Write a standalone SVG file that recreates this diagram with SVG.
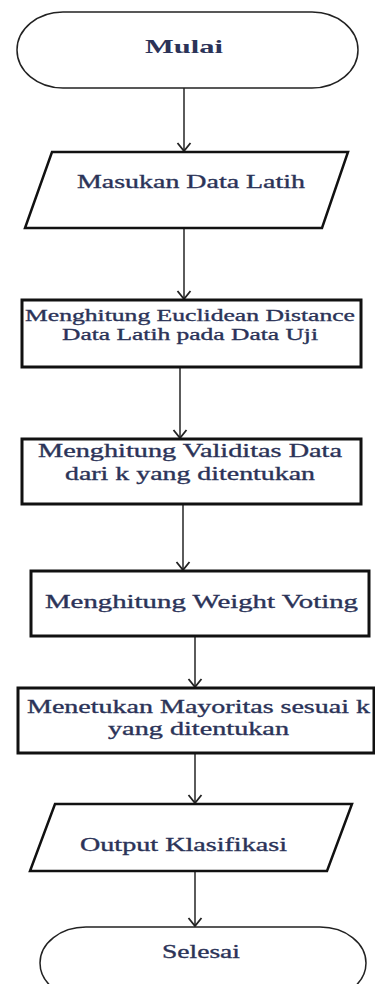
<svg xmlns="http://www.w3.org/2000/svg" width="375" height="984" viewBox="0 0 375 984">
<style>
.t{font-family:"Liberation Serif","Times New Roman",serif;font-size:19px;fill:#2b3358;stroke:#2b3358;stroke-width:0.35}
.s{font-size:17px}
.b{font-weight:bold;stroke-width:0}
.term{fill:#fff;stroke:#222;stroke-width:1.5}
.box{fill:#fff;stroke:#111;stroke-width:3}
.io{fill:#fff;stroke:#111;stroke-width:2.5}
.c line{stroke:#333;stroke-width:1.6}
</style>
<defs>
<marker id="ah" markerUnits="userSpaceOnUse" markerWidth="14" markerHeight="16" refX="10" refY="8" orient="auto" viewBox="0 0 12 16">
<path d="M2,1.5 L10,8 L2,14.5" fill="none" stroke="#222" stroke-width="1.8"/>
</marker>
</defs>
<rect width="375" height="984" fill="#fff"/>
<g class="c" id="connectors">
<line x1="184" y1="88" x2="184" y2="151" marker-end="url(#ah)"/>
<line x1="184" y1="228" x2="184" y2="299" marker-end="url(#ah)"/>
<line x1="180" y1="367" x2="180" y2="438" marker-end="url(#ah)"/>
<line x1="183" y1="504" x2="183" y2="570" marker-end="url(#ah)"/>
<line x1="195" y1="636" x2="195" y2="687" marker-end="url(#ah)"/>
<line x1="195" y1="753" x2="195" y2="803" marker-end="url(#ah)"/>
<line x1="195" y1="871" x2="195" y2="926" marker-end="url(#ah)"/>
</g>
<g id="mulai">
<rect class="term" x="17" y="12" width="341" height="76" rx="46" ry="38"/>
<text class="t b" x="145" y="53" font-size="22" textLength="78" lengthAdjust="spacingAndGlyphs">Mulai</text>
</g>
<g id="masukan">
<polygon class="io" points="52,152 348,152 322,228 25,228"/>
<text class="t" x="77" y="188" textLength="228" lengthAdjust="spacingAndGlyphs">Masukan Data Latih</text>
</g>
<g id="euclidean">
<rect class="box" x="22" y="300" width="339" height="67"/>
<text class="t s" x="25" y="321" textLength="330" lengthAdjust="spacingAndGlyphs">Menghitung Euclidean Distance</text>
<text class="t s" x="62" y="340" textLength="256" lengthAdjust="spacingAndGlyphs">Data Latih pada Data Uji</text>
</g>
<g id="validitas">
<rect class="box" x="22" y="439" width="339" height="65"/>
<text class="t" x="38" y="457" textLength="304" lengthAdjust="spacingAndGlyphs">Menghitung Validitas Data</text>
<text class="t" x="65" y="480" textLength="250" lengthAdjust="spacingAndGlyphs">dari k yang ditentukan</text>
</g>
<g id="weight">
<rect class="box" x="31" y="571" width="338" height="65"/>
<text class="t" x="45" y="608" textLength="313" lengthAdjust="spacingAndGlyphs">Menghitung Weight Voting</text>
</g>
<g id="mayoritas">
<rect class="box" x="18" y="688" width="356" height="65"/>
<text class="t" x="27" y="713" textLength="343" lengthAdjust="spacingAndGlyphs">Menetukan Mayoritas sesuai k</text>
<text class="t" x="108" y="735" textLength="181" lengthAdjust="spacingAndGlyphs">yang ditentukan</text>
</g>
<g id="output">
<polygon class="io" points="55,804 352,804 327,871 30,871"/>
<text class="t" x="80" y="851" textLength="207" lengthAdjust="spacingAndGlyphs">Output Klasifikasi</text>
</g>
<g id="selesai">
<rect class="term" x="40" y="927" width="326" height="72" rx="46" ry="36"/>
<text class="t" x="162" y="958" textLength="78" lengthAdjust="spacingAndGlyphs">Selesai</text>
</g>
</svg>
